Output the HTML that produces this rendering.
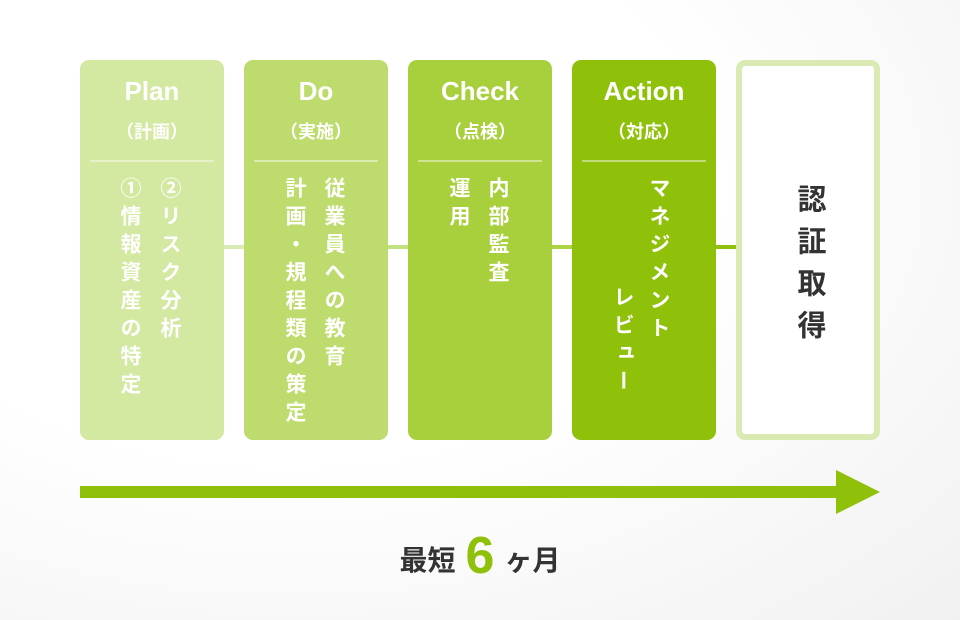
<!DOCTYPE html>
<html><head><meta charset="utf-8"><style>
body{margin:0;width:960px;height:620px;overflow:hidden;background:radial-gradient(ellipse at 30% 30%,#fff 45%,#f1f1f1 100%);font-family:"Liberation Sans","Noto Sans CJK JP",sans-serif;position:relative}
.b{position:absolute;top:60px;width:144px;height:380px;border-radius:9px;color:#fff}
.t{position:absolute;top:16px;width:100%;text-align:center;font-size:26px;font-weight:bold}
.s{position:absolute;top:58px;width:100%;text-align:center;font-size:18px;font-weight:bold}
.d{position:absolute;top:100px;left:10px;right:10px;height:2px;background:rgba(255,255,255,.45)}
.v{position:absolute;writing-mode:vertical-rl;font-size:21px;font-weight:bold;letter-spacing:7px;line-height:1;white-space:nowrap}
.ln{position:absolute;top:245px;height:4px}
</style></head><body>
<div class="ln" style="left:224px;width:20px;background:#d8ebb4"></div>
<div class="ln" style="left:388px;width:20px;background:#c4e180"></div>
<div class="ln" style="left:552px;width:20px;background:#acd341"></div>
<div class="ln" style="left:716px;width:20px;background:#8fc00a"></div>

<div class="b" style="left:80px;background:#d3e8a0">
<div class="t">Plan</div><div class="s">（計画）</div><div class="d"></div>
<div class="v" style="left:39px;top:117px">①情報資産の特定</div>
<div class="v" style="left:79px;top:117px">②リスク分析</div>
</div>
<div class="b" style="left:244px;background:#bedc6e">
<div class="t">Do</div><div class="s">（実施）</div><div class="d"></div>
<div class="v" style="left:40px;top:117px">計画・規程類の策定</div>
<div class="v" style="left:79px;top:117px">従業員への教育</div>
</div>
<div class="b" style="left:408px;background:#a8d03c">
<div class="t">Check</div><div class="s">（点検）</div><div class="d"></div>
<div class="v" style="left:40px;top:117px">運用</div>
<div class="v" style="left:79px;top:117px">内部監査</div>
</div>
<div class="b" style="left:572px;background:#8fc00a">
<div class="t">Action</div><div class="s">（対応）</div><div class="d"></div>
<div class="v" style="left:40px;top:226px">レビュー</div>
<div class="v" style="left:76px;top:117px">マネジメント</div>
</div>
<div style="position:absolute;left:736px;top:60px;width:132px;height:368px;border:6px solid #d9eab3;border-radius:9px;background:#fff">
<div class="v" style="left:52px;top:118px;color:#333;font-size:29px;letter-spacing:13px">認証取得</div>
</div>

<div style="position:absolute;left:80px;top:486px;width:760px;height:12px;background:#8fc00a"></div>
<div style="position:absolute;left:836px;top:470px;width:0;height:0;border-top:22px solid transparent;border-bottom:22px solid transparent;border-left:44px solid #8fc00a"></div>

<div style="position:absolute;left:0;width:960px;top:526px;text-align:center;color:#333;font-weight:bold;font-size:28px;line-height:60px">最短<span style="color:#8fc00a;font-size:52px;vertical-align:-3px;margin:0 10px">6</span>ヶ月</div>
</body></html>
